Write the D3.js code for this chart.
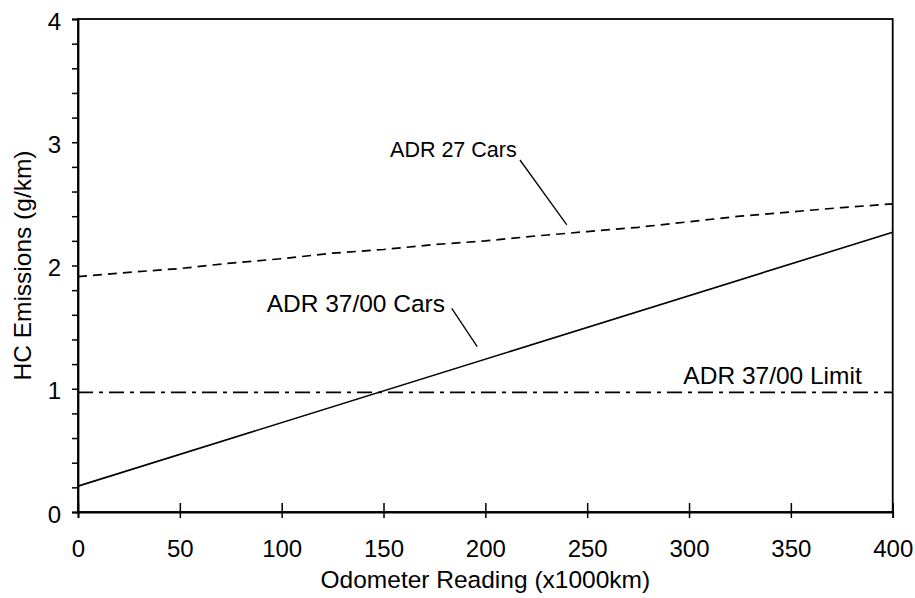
<!DOCTYPE html>
<html>
<head>
<meta charset="utf-8">
<script src="https://cdn.jsdelivr.net/npm/d3@7"></script>
<style>
  html, body { margin: 0; padding: 0; background: #fff; }
  svg { display: block; font-family: "Liberation Sans", Arial, sans-serif; }
</style>
</head>
<body>
<svg id="chart" width="915" height="598"></svg>
<script>
// ---- data ----
const adr27Km = [0, 25, 50, 75, 100, 125, 150, 175, 200, 225, 250, 275, 300, 325, 350, 375, 400];
const adr27Hc = [1.91, 1.945, 1.975, 2.02, 2.055, 2.10, 2.13, 2.17, 2.20, 2.24, 2.275, 2.31, 2.355, 2.40, 2.435, 2.47, 2.50];
const adr37Km = [0, 400];
const adr37Hc = [0.21, 2.27];
const limitKm = [0, 400];
const limitHc = [0.97, 0.97];
const xTicks = [0, 50, 100, 150, 200, 250, 300, 350, 400];
const yTicks = [0, 1, 2, 3, 4];
const yMinorTicks = d3.range(0, 4.0001, 0.2);
const xTitle = "Odometer Reading (x1000km)";
const yTitle = "HC Emissions (g/km)";
const labels = ["ADR 27 Cars", "ADR 37/00 Cars", "ADR 37/00 Limit"];

// ---- layout ----
const svg = d3.select("#chart");
const pL = 78, pR = 892.7, pT = 19, pB = 512;
const x = d3.scaleLinear().domain([0, 400]).range([pL, pR]);
const y = d3.scaleLinear().domain([0, 4]).range([pB, pT]);
const tickFont = 24, titleFont = 24.5;

// frame
svg.append("rect")
  .attr("x", pL).attr("y", pT)
  .attr("width", pR - pL).attr("height", pB - pT)
  .attr("fill", "none").attr("stroke", "#000").attr("stroke-width", 1.8);

// y axis (minor ticks)
const yAxisG = svg.append("g").attr("transform", `translate(${pL},0)`)
  .call(d3.axisLeft(y).tickValues(yMinorTicks).tickSize(6).tickFormat(d => {
    const r = Math.round(d);
    return yTicks.includes(r) && Math.abs(d - r) < 1e-6 ? String(r) : "";
  }));
yAxisG.select(".domain").attr("stroke-width", 1.8);
yAxisG.selectAll(".tick line").attr("stroke-width", 1.5);
yAxisG.selectAll(".tick text")
  .attr("x", -17).attr("dy", "0.42em")
  .style("font-size", tickFont + "px").style("font-family", "Liberation Sans, Arial, sans-serif")
  .attr("fill", "#000");

// x axis
const xAxisG = svg.append("g").attr("transform", `translate(0,${pB})`)
  .call(d3.axisBottom(x).tickValues(xTicks).tickSize(6).tickFormat(d3.format("d")));
xAxisG.select(".domain").attr("stroke-width", 1.8);
xAxisG.selectAll(".tick line").attr("y1", -9).attr("y2", 6).attr("stroke-width", 1.5);
xAxisG.selectAll(".tick text")
  .attr("y", 45).attr("dy", 0)
  .style("font-size", tickFont + "px").style("font-family", "Liberation Sans, Arial, sans-serif")
  .attr("fill", "#000");

// titles
svg.append("text")
  .attr("x", (pL + pR) / 2).attr("y", 588)
  .attr("text-anchor", "middle")
  .style("font-size", titleFont + "px")
  .text(xTitle);
svg.append("text")
  .attr("transform", `translate(31,${(pT + pB) / 2}) rotate(-90)`)
  .attr("text-anchor", "middle")
  .style("font-size", titleFont + "px")
  .text(yTitle);

// lines
const line = d3.line().x(d => x(d[0])).y(d => y(d[1]));
svg.append("path")
  .datum(adr27Km.map((k, i) => [k, adr27Hc[i]]))
  .attr("d", line).attr("fill", "none").attr("stroke", "#000")
  .attr("stroke-width", 1.7).attr("stroke-dasharray", "9,6");
svg.append("path")
  .datum(adr37Km.map((k, i) => [k, adr37Hc[i]]))
  .attr("d", line).attr("fill", "none").attr("stroke", "#000")
  .attr("stroke-width", 1.6);
svg.append("path")
  .datum(limitKm.map((k, i) => [k, limitHc[i]]))
  .attr("d", line).attr("fill", "none").attr("stroke", "#000")
  .attr("stroke-width", 1.7).attr("stroke-dasharray", "15,6,4,6");

// annotations (positions in data units)
const annoText = [
  { t: labels[0], km: 215.4, v: 2.88, fs: 21.5 },
  { t: labels[1], km: 180.2, v: 1.625, fs: 24.5 },
  { t: labels[2], km: 384.8, v: 1.039, fs: 24.5 }
];
annoText.forEach(a => {
  svg.append("text")
    .attr("x", x(a.km)).attr("y", y(a.v))
    .attr("text-anchor", "end")
    .style("font-size", a.fs + "px")
    .text(a.t);
});
const leaders = [
  [[217, 2.856], [240, 2.329]],
  [[183.5, 1.653], [196, 1.341]]
];
leaders.forEach(l => {
  svg.append("path").datum(l).attr("d", line)
    .attr("fill", "none").attr("stroke", "#000").attr("stroke-width", 1.3);
});
</script>
</body>
</html>
